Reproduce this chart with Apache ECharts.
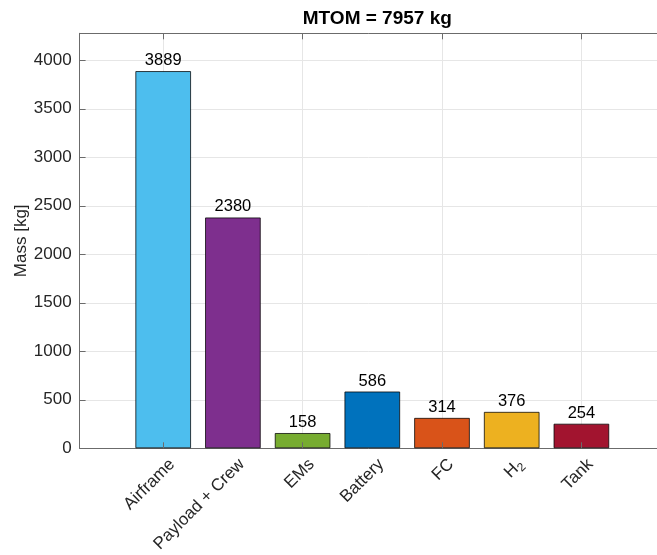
<!DOCTYPE html>
<html>
<head>
<meta charset="utf-8">
<script src="https://cdn.jsdelivr.net/npm/echarts@6/dist/echarts.min.js"></script>
<style>
html,body{margin:0;padding:0;background:#fff;}
#chart{width:657px;height:555px;}
</style>
</head>
<body>
<div id="chart"></div>
<script>
const categories = ['Airframe', 'Payload + Crew', 'EMs', 'Battery', 'FC', 'H_2', 'Tank'];
const masses = [3889, 2380, 158, 586, 314, 376, 254];
const yTicks = [0, 500, 1000, 1500, 2000, 2500, 3000, 3500, 4000];
const titleText = 'MTOM = 7957 kg';
const yName = 'Mass [kg]';

const barColors = ['#4DBEEE', '#7E2F8E', '#77AC30', '#0072BD', '#D95319', '#EDB120', '#A2142F'];
const FONT = 'Liberation Sans, Arial, Helvetica, sans-serif';
const yMax = 4278;
const axisColor = '#6b6b6b';
const gridColor = '#e6e6e6';
const textColor = '#262626';

// layout
const plotTop = 33.3, plotBottom = 555 - 448.3;
const frameLeft = 79.6, frameRight = -8;
const barLeft = 128.35, barRight = 40.75;
const labelDx = 9;

const chart = echarts.init(document.getElementById('chart'), null, {renderer: 'canvas'});

function fmtCat(v) {
  if (v.indexOf('_') >= 0) {
    const p = v.split('_');
    return '{n|' + p[0] + '}{s|' + p[1] + '}';
  }
  return '{n|' + v + '}';
}

const option = {
  animation: false,
  backgroundColor: '#fff',
  title: {
    text: titleText,
    left: 372.3,
    top: 4,
    textAlign: 'center',
    textStyle: {fontFamily: FONT, fontSize: 19, fontWeight: 'bold', color: '#000'}
  },
  grid: [
    {left: frameLeft, right: frameRight, top: plotTop, bottom: plotBottom},
    {left: barLeft, right: barRight, top: plotTop, bottom: plotBottom},
    {left: barLeft + labelDx, right: barRight - labelDx, top: plotTop, bottom: plotBottom}
  ],
  xAxis: [
    {gridIndex: 0, type: 'value', min: 0, max: 1, position: 'bottom',
     axisLine: {show: true, lineStyle: {color: axisColor, width: 1}},
     axisTick: {show: false}, axisLabel: {show: false}, splitLine: {show: false}},
    {gridIndex: 0, type: 'value', min: 0, max: 1, position: 'top',
     axisLine: {show: true, lineStyle: {color: axisColor, width: 1}},
     axisTick: {show: false}, axisLabel: {show: false}, splitLine: {show: false}},
    // vertical grid lines (behind bars)
    {gridIndex: 1, type: 'category', data: categories, position: 'bottom',
     axisLine: {show: false}, axisTick: {show: false}, axisLabel: {show: false},
     splitLine: {show: true, alignWithLabel: true, lineStyle: {color: gridColor, width: 1}}},
    // ticks on top of bars (bottom)
    {gridIndex: 1, type: 'category', data: categories, position: 'bottom', z: 5,
     axisLine: {show: false},
     axisTick: {show: true, inside: true, alignWithLabel: true, length: 6, lineStyle: {color: axisColor}},
     axisLabel: {show: false}, splitLine: {show: false}},
    // ticks at top
    {gridIndex: 1, type: 'category', data: categories, position: 'top', z: 5,
     axisLine: {show: false},
     axisTick: {show: true, inside: true, alignWithLabel: true, length: 6, lineStyle: {color: axisColor}},
     axisLabel: {show: false}, splitLine: {show: false}},
    // labels
    {gridIndex: 2, type: 'category', data: categories, position: 'bottom',
     axisLine: {show: false}, axisTick: {show: false}, splitLine: {show: false},
     axisLabel: {
       show: true, rotate: 45, margin: 20, interval: 0,
       formatter: fmtCat,
       rich: {
         n: {fontFamily: FONT, fontSize: 17, color: textColor},
         s: {fontFamily: FONT, fontSize: 12, color: textColor, padding: [10, 0, 0, 0]}
       }
     }}
  ],
  yAxis: [
    {gridIndex: 0, type: 'value', min: 0, max: yMax, interval: 500,
     name: yName, nameLocation: 'middle', nameGap: 50, nameRotate: 90,
     nameMoveOverlap: false,
     nameTextStyle: {fontFamily: FONT, fontSize: 17, color: textColor},
     axisLine: {show: true, lineStyle: {color: axisColor, width: 1}},
     axisTick: {show: true, inside: true, length: 6, lineStyle: {color: axisColor}},
     axisLabel: {fontFamily: FONT, fontSize: 17, color: textColor, margin: 8,
       formatter: function (v) { return yTicks.indexOf(v) >= 0 ? String(v) : ''; }},
     splitLine: {show: true, lineStyle: {color: gridColor, width: 1}}},
    {gridIndex: 1, type: 'value', min: 0, max: yMax, show: false,
     splitLine: {show: false}},
    {gridIndex: 2, type: 'value', min: 0, max: yMax, show: false,
     splitLine: {show: false}}
  ],
  series: [{
    type: 'bar',
    xAxisIndex: 2,
    yAxisIndex: 1,
    barWidth: '80%',
    z: 2,
    data: masses.map((v, i) => ({value: v, itemStyle: {color: barColors[i]}})),
    itemStyle: {borderColor: 'rgba(0,0,0,0.75)', borderWidth: 1},
    label: {show: true, position: 'top', distance: 2,
      fontFamily: FONT, fontSize: 16.5, color: '#000'}
  }]
};
chart.setOption(option);
</script>
</body>
</html>
